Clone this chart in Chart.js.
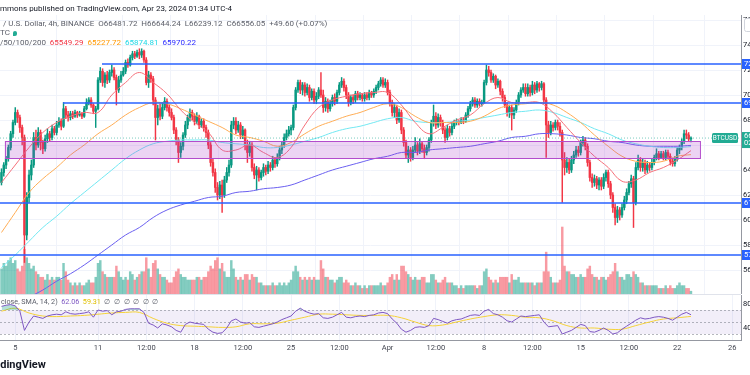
<!DOCTYPE html>
<html lang="en">
<head>
  <meta charset="UTF-8" />
  <title>BTCUSD 4h</title>
  <script src="https://cdn.jsdelivr.net/npm/chart.js"></script>
  <style>
    body {
      margin: 0;
      width: 750px;
      height: 375px;
      overflow: hidden;
      position: relative;
      background: #fff;
      font-family: Roboto, "Noto Sans", sans-serif;
    }
    #priceWrap { position: absolute; left: 0; top: 0; }
    #rsiWrap { position: absolute; left: 0; top: 294px; }
    .t {
      position: absolute;
      white-space: pre;
      font-size: 8px;
      line-height: 9px;
      color: #131722;
      z-index: 2;
    }
    .g { color: #5d606b; }
    .small { font-size: 7.2px; }
    .icon {
      display: inline-block;
      width: 4px;
      height: 5px;
      margin-left: 3px;
      background: #22ab94;
      border-radius: 2px 2px 2px 0;
      vertical-align: -1px;
    }
    #brand { font-weight: bold; font-size: 11px; line-height: 12px; }
  </style>
</head>
<body>
  <div id="priceWrap"><canvas id="priceChart" width="800" height="294"></canvas></div>
  <div id="rsiWrap"><canvas id="rsiChart" width="800" height="81"></canvas></div>

  <div class="t" style="left:0;top:4px">mmons published on TradingView.com, Apr 23, 2024 01:34 UTC-4</div>
  <div class="t g" style="left:3px;top:19px">/ U.S. Dollar, 4h, BINANCE  O66481.72  H66644.24  L66239.12  C66556.05  +49.60 (+0.07%)</div>
  <div class="t g" style="left:0;top:28px">TC<span class="icon"></span></div>
  <div class="t g" style="left:0;top:38px">/50/100/200  <span style="color:#f23645">65549.29</span>  <span style="color:#ff9800">65227.72</span>  <span style="color:#1fd8e6">65874.81</span>  <span style="color:#2b2bff">65970.22</span></div>

  <div class="t g small" style="left:1px;top:297px">close, SMA, 14, 2)  <span style="color:#7e57c2">62.06</span>  <span style="color:#e0c000">59.31</span>  ∅  ∅  ∅  ∅  ∅  ∅</div>

  <div class="t" id="brand" style="left:0;top:359px"><span id="brandCut">Tra</span>dingView</div>

  <script>
    // time axis in days since Feb 29 (so 4 = Mar 4, 32 = Apr 1), UTC-4
    const firstCandle = 4;
    const candleStep = 1 / 6; // 4h candles
    const xMin = 3.893;
    const xMax = 57.628;

    // prices in thousands USD
    const opens = [
      63.0, 63.8, 64.4, 64.9, 65.8, 66.9, 67.8, 68.6, 68.2, 67.4,
      66.6, 58.8, 61.8, 63.6, 64.4, 66.6, 66.0, 67.0, 66.2, 65.7,
      66.5, 66.9, 66.6, 67.3, 67.0, 67.6, 67.9, 67.5, 68.9, 68.4,
      68.2, 68.5, 68.3, 68.6, 68.4, 68.5, 68.3, 68.9, 69.4, 69.6,
      69.2, 68.7, 68.9, 71.2, 71.9, 71.0, 71.6, 71.2, 71.8, 72.0,
      71.4, 70.4, 71.2, 71.6, 71.9, 72.6, 72.4, 73.0, 73.3, 73.1,
      73.4, 73.2, 73.5, 72.8, 71.0, 71.6, 71.3, 69.6, 68.2, 68.9,
      68.3, 69.0, 69.5, 69.0, 68.6, 68.2, 67.2, 66.4, 65.4, 65.9,
      66.8, 67.6, 68.2, 68.6, 68.3, 67.9, 68.3, 67.6, 67.9, 67.4,
      67.0, 66.0, 64.6, 63.8, 62.6, 62.0, 62.8, 62.0, 63.2, 63.8,
      64.4, 67.6, 67.9, 67.2, 67.6, 66.8, 67.2, 66.0, 65.4, 66.0,
      64.2, 63.6, 64.0, 63.4, 63.8, 64.2, 63.9, 64.4, 64.2, 64.8,
      64.5, 65.0, 65.6, 66.0, 66.6, 66.9, 67.2, 67.4, 69.0, 70.4,
      71.0, 70.4, 70.8, 70.2, 70.6, 69.8, 70.3, 69.6, 69.9, 70.4,
      70.0, 69.0, 69.5, 68.9, 69.3, 69.8, 69.5, 70.2, 70.8, 71.1,
      70.6, 70.0, 69.4, 69.8, 69.6, 70.1, 69.8, 70.0, 69.7, 70.0,
      69.8, 70.2, 70.0, 70.3, 70.6, 70.9, 71.2, 70.8, 71.0, 70.2,
      69.4, 68.6, 69.0, 68.0, 68.6, 67.2, 66.2, 65.2, 65.6, 65.0,
      65.6, 66.0, 65.5, 66.1, 65.7, 65.4, 65.8, 66.4, 67.8, 68.3,
      67.6, 68.2, 67.8, 67.2, 66.6, 67.3, 67.0, 67.5, 67.8, 67.9,
      67.8, 68.0, 67.9, 68.4, 68.9, 69.3, 69.6, 69.2, 69.5, 69.3,
      69.4, 71.0, 72.0, 71.8, 71.2, 71.5, 70.8, 71.1, 70.3, 69.8,
      69.2, 68.6, 69.0, 68.4, 68.8, 69.4, 70.0, 70.4, 70.6, 70.1,
      70.6, 70.2, 70.8, 70.4, 70.9, 70.6, 70.9, 69.6, 67.6, 67.0,
      67.6, 67.4, 67.8, 67.5, 67.0, 64.8, 64.2, 64.6, 64.0, 64.8,
      65.2, 65.6, 65.4, 66.2, 66.4, 65.9, 64.6, 63.4, 63.0, 63.3,
      62.8, 63.2, 62.7, 63.4, 63.8, 62.9, 62.0, 61.0, 60.2, 60.8,
      60.4, 61.0, 61.6, 62.2, 62.9, 63.3, 61.4, 64.2, 64.8, 64.2,
      64.6, 64.0, 64.4, 64.2, 64.6, 65.0, 65.3, 65.0, 65.3, 65.0,
      65.4, 65.1, 64.7, 64.5, 64.9, 65.6, 65.8, 66.3, 66.9, 66.8,
      66.48172
    ];
    const highs = [
      64.1, 64.6, 65.1, 66.0, 67.1, 68.0, 69.0, 68.8, 68.4, 67.6,
      66.8, 62.2, 64.0, 64.8, 67.0, 67.2, 67.4, 67.2, 66.4, 66.8,
      67.3, 67.1, 67.6, 67.5, 67.9, 68.2, 68.1, 69.4, 69.1, 68.7,
      68.7, 68.7, 68.8, 68.7, 68.7, 68.6, 69.1, 69.7, 69.8, 69.8,
      69.3, 69.1, 71.4, 72.2, 72.1, 71.8, 71.9, 72.0, 72.4, 72.2,
      71.6, 71.5, 71.9, 72.2, 72.8, 72.9, 73.2, 73.5, 73.5, 73.6,
      73.7, 73.7, 73.6, 73.0, 71.9, 71.8, 71.5, 69.8, 69.2, 69.3,
      69.4, 69.8, 69.7, 69.2, 68.9, 68.4, 67.4, 66.6, 66.2, 67.0,
      67.9, 68.4, 68.9, 68.8, 68.5, 68.6, 68.4, 68.1, 68.1, 67.6,
      67.2, 66.2, 64.9, 64.1, 63.0, 63.1, 63.2, 63.5, 64.2, 64.8,
      67.9, 68.2, 68.2, 67.9, 67.8, 67.5, 67.3, 66.4, 66.3, 66.2,
      64.5, 64.3, 64.2, 64.0, 64.5, 64.4, 64.7, 64.6, 65.1, 65.0,
      65.3, 65.9, 66.3, 66.9, 67.2, 67.5, 67.6, 69.2, 70.6, 71.2,
      71.2, 71.0, 71.0, 70.9, 70.8, 70.5, 70.5, 70.2, 70.6, 71.8,
      70.4, 69.8, 69.7, 69.6, 70.0, 70.1, 70.4, 71.0, 71.4, 71.3,
      70.8, 70.2, 70.0, 70.0, 70.3, 70.3, 70.2, 70.1, 70.2, 70.2,
      70.4, 70.3, 70.5, 70.8, 71.1, 71.4, 71.4, 71.3, 71.2, 70.4,
      69.6, 69.3, 69.2, 68.9, 68.8, 67.4, 66.4, 65.9, 65.8, 65.9,
      66.6, 66.2, 66.5, 66.3, 66.0, 66.0, 66.6, 68.0, 69.2, 68.6,
      68.5, 68.4, 68.0, 67.4, 67.6, 67.5, 67.8, 68.0, 68.1, 68.0,
      68.2, 68.2, 68.6, 69.1, 69.5, 69.8, 69.8, 69.7, 69.7, 69.6,
      71.2, 72.4, 72.3, 72.0, 71.7, 71.6, 71.3, 71.2, 70.5, 70.0,
      69.4, 69.2, 69.2, 69.0, 69.6, 70.2, 70.6, 70.9, 70.9, 70.9,
      70.8, 71.1, 71.0, 71.1, 71.0, 71.1, 71.0, 69.8, 67.9, 67.9,
      67.8, 68.0, 68.0, 67.8, 67.2, 65.4, 65.0, 64.9, 65.1, 65.5,
      65.9, 65.9, 66.4, 66.7, 66.6, 66.1, 64.8, 63.7, 63.6, 63.5,
      63.4, 63.4, 63.7, 64.0, 64.0, 63.1, 62.2, 61.3, 61.1, 61.0,
      61.3, 61.9, 62.5, 63.1, 63.6, 63.5, 64.6, 65.2, 65.0, 64.9,
      64.8, 64.7, 64.6, 64.9, 65.2, 65.7, 65.5, 65.5, 65.5, 65.6,
      65.6, 65.3, 64.9, 65.1, 65.8, 66.0, 66.5, 67.2, 67.2, 67.0,
      66.64424
    ];
    const lows = [
      62.8, 63.5, 64.1, 64.7, 65.6, 66.6, 67.6, 67.8, 67.0, 66.0,
      56.6, 58.4, 61.4, 63.2, 64.2, 65.6, 65.8, 65.6, 65.3, 65.5,
      66.2, 66.3, 66.4, 66.8, 66.8, 67.4, 67.2, 67.4, 68.1, 67.9,
      68.0, 68.1, 68.2, 68.2, 68.3, 68.1, 68.2, 68.8, 69.2, 69.0,
      68.5, 67.4, 68.8, 71.0, 70.7, 70.6, 70.9, 71.0, 71.5, 71.2,
      69.2, 70.2, 71.0, 71.5, 71.7, 72.2, 72.3, 72.8, 72.9, 73.0,
      72.9, 73.0, 72.6, 70.8, 70.6, 71.0, 69.2, 66.4, 67.6, 68.0,
      68.1, 68.8, 68.7, 68.3, 68.0, 66.9, 66.0, 64.6, 65.0, 65.6,
      66.6, 67.3, 67.9, 68.0, 67.6, 67.7, 67.3, 67.4, 67.1, 66.6,
      65.7, 64.3, 63.5, 62.2, 61.6, 61.7, 60.6, 61.8, 63.0, 63.5,
      64.2, 67.3, 66.9, 67.0, 66.5, 66.5, 65.6, 64.6, 65.1, 63.9,
      63.3, 62.4, 63.1, 63.2, 63.5, 63.6, 63.7, 63.9, 64.0, 64.2,
      64.3, 64.8, 65.3, 65.8, 66.4, 66.7, 66.8, 67.2, 68.8, 70.2,
      70.1, 70.0, 69.9, 70.0, 69.5, 69.6, 69.3, 69.3, 69.7, 69.8,
      68.6, 68.7, 68.6, 68.7, 69.1, 69.2, 69.3, 70.0, 70.6, 70.3,
      69.7, 69.1, 69.2, 69.3, 69.4, 69.6, 69.6, 69.5, 69.5, 69.6,
      69.6, 69.8, 69.8, 70.1, 70.4, 70.7, 70.6, 70.6, 70.0, 69.1,
      68.3, 68.2, 67.7, 67.8, 66.9, 65.9, 64.9, 64.6, 64.7, 64.8,
      65.4, 65.2, 65.3, 65.4, 64.9, 65.2, 65.5, 66.2, 67.5, 67.3,
      67.4, 67.5, 66.9, 66.2, 66.4, 66.7, 66.8, 67.3, 67.6, 67.6,
      67.7, 67.7, 67.8, 68.2, 68.7, 69.1, 69.0, 69.0, 69.1, 69.1,
      69.3, 70.8, 71.5, 71.0, 71.0, 70.5, 70.6, 70.0, 69.5, 69.0,
      68.3, 68.2, 67.2, 68.1, 68.6, 69.2, 69.8, 70.2, 69.9, 69.9,
      69.9, 70.0, 70.1, 70.2, 70.3, 70.4, 69.3, 65.0, 66.6, 66.8,
      67.1, 67.2, 67.2, 66.7, 61.4, 63.6, 63.8, 63.7, 63.8, 64.5,
      65.0, 65.1, 65.2, 65.9, 65.6, 64.3, 63.1, 62.6, 62.7, 62.5,
      62.4, 62.4, 62.5, 63.1, 62.6, 61.7, 60.6, 59.6, 59.8, 60.0,
      60.2, 60.8, 61.3, 62.0, 62.6, 59.4, 61.2, 64.0, 63.9, 63.9,
      63.7, 63.8, 63.9, 64.0, 64.4, 64.8, 64.8, 64.9, 64.8, 64.8,
      64.9, 64.4, 64.3, 64.3, 64.7, 65.3, 65.6, 66.1, 66.5, 66.3,
      66.23912
    ];
    const closes = [
      63.8, 64.4, 64.9, 65.8, 66.9, 67.8, 68.6, 68.2, 67.4, 66.6,
      58.8, 61.8, 63.6, 64.4, 66.6, 66.0, 67.0, 66.2, 65.7, 66.5,
      66.9, 66.6, 67.3, 67.0, 67.6, 67.9, 67.5, 68.9, 68.4, 68.2,
      68.5, 68.3, 68.6, 68.4, 68.5, 68.3, 68.9, 69.4, 69.6, 69.2,
      68.7, 68.9, 71.2, 71.9, 71.0, 71.6, 71.2, 71.8, 72.0, 71.4,
      70.4, 71.2, 71.6, 71.9, 72.6, 72.4, 73.0, 73.3, 73.1, 73.4,
      73.2, 73.5, 72.8, 71.0, 71.6, 71.3, 69.6, 68.2, 68.9, 68.3,
      69.0, 69.5, 69.0, 68.6, 68.2, 67.2, 66.4, 65.4, 65.9, 66.8,
      67.6, 68.2, 68.6, 68.3, 67.9, 68.3, 67.6, 67.9, 67.4, 67.0,
      66.0, 64.6, 63.8, 62.6, 62.0, 62.8, 62.0, 63.2, 63.8, 64.4,
      67.6, 67.9, 67.2, 67.6, 66.8, 67.2, 66.0, 65.4, 66.0, 64.2,
      63.6, 64.0, 63.4, 63.8, 64.2, 63.9, 64.4, 64.2, 64.8, 64.5,
      65.0, 65.6, 66.0, 66.6, 66.9, 67.2, 67.4, 69.0, 70.4, 71.0,
      70.4, 70.8, 70.2, 70.6, 69.8, 70.3, 69.6, 69.9, 70.4, 70.0,
      69.0, 69.5, 68.9, 69.3, 69.8, 69.5, 70.2, 70.8, 71.1, 70.6,
      70.0, 69.4, 69.8, 69.6, 70.1, 69.8, 70.0, 69.7, 70.0, 69.8,
      70.2, 70.0, 70.3, 70.6, 70.9, 71.2, 70.8, 71.0, 70.2, 69.4,
      68.6, 69.0, 68.0, 68.6, 67.2, 66.2, 65.2, 65.6, 65.0, 65.6,
      66.0, 65.5, 66.1, 65.7, 65.4, 65.8, 66.4, 67.8, 68.3, 67.6,
      68.2, 67.8, 67.2, 66.6, 67.3, 67.0, 67.5, 67.8, 67.9, 67.8,
      68.0, 67.9, 68.4, 68.9, 69.3, 69.6, 69.2, 69.5, 69.3, 69.4,
      71.0, 72.0, 71.8, 71.2, 71.5, 70.8, 71.1, 70.3, 69.8, 69.2,
      68.6, 69.0, 68.4, 68.8, 69.4, 70.0, 70.4, 70.6, 70.1, 70.6,
      70.2, 70.8, 70.4, 70.9, 70.6, 70.9, 69.6, 67.6, 67.0, 67.6,
      67.4, 67.8, 67.5, 67.0, 64.8, 64.2, 64.6, 64.0, 64.8, 65.2,
      65.6, 65.4, 66.2, 66.4, 65.9, 64.6, 63.4, 63.0, 63.3, 62.8,
      63.2, 62.7, 63.4, 63.8, 62.9, 62.0, 61.0, 60.2, 60.8, 60.4,
      61.0, 61.6, 62.2, 62.9, 63.3, 61.4, 64.2, 64.8, 64.2, 64.6,
      64.0, 64.4, 64.2, 64.6, 65.0, 65.3, 65.0, 65.3, 65.0, 65.4,
      65.1, 64.7, 64.5, 64.9, 65.6, 65.8, 66.3, 66.9, 66.8, 66.48,
      66.55605
    ];
    // volume, relative units
    const volumes = [
      9, 11, 10, 12, 13, 11, 12, 9, 8, 10,
      16, 13, 11, 9, 10, 8, 7, 6, 6, 5,
      7, 5, 6, 5, 6, 6, 5, 11, 8, 5,
      4, 3, 4, 3, 4, 3, 3, 4, 5, 4,
      4, 6, 11, 12, 8, 7, 6, 6, 6, 6,
      10, 8, 6, 5, 6, 5, 8, 7, 5, 6,
      7, 8, 8, 13, 9, 6, 11, 12, 9, 7,
      6, 6, 5, 4, 4, 6, 8, 9, 7, 6,
      6, 5, 5, 5, 5, 6, 6, 5, 6, 6,
      8, 10, 9, 12, 13, 9, 11, 8, 6, 6,
      12, 9, 6, 5, 6, 5, 7, 7, 5, 7,
      6, 6, 4, 4, 3, 3, 3, 3, 4, 3,
      3, 4, 3, 4, 3, 4, 5, 8, 10, 8,
      6, 5, 6, 5, 6, 5, 6, 5, 5, 12,
      9, 6, 6, 5, 5, 4, 5, 6, 6, 4,
      5, 4, 3, 3, 4, 3, 3, 2, 3, 2,
      3, 3, 3, 3, 3, 4, 3, 3, 4, 6,
      7, 5, 7, 5, 10, 10, 8, 7, 6, 5,
      6, 5, 5, 6, 6, 4, 4, 7, 7, 5,
      4, 4, 5, 6, 4, 4, 4, 3, 3, 2,
      3, 2, 3, 3, 3, 3, 3, 2, 3, 3,
      8, 9, 6, 5, 4, 5, 4, 6, 6, 6,
      6, 4, 7, 5, 5, 6, 4, 4, 4, 4,
      4, 4, 3, 4, 4, 4, 8, 15, 8, 6,
      4, 4, 4, 5, 24, 10, 8, 8, 7, 7,
      6, 6, 7, 6, 6, 9, 10, 7, 6, 6,
      5, 6, 6, 5, 6, 7, 8, 11, 8, 6,
      6, 5, 7, 7, 6, 8, 7, 6, 4, 4,
      3, 3, 3, 3, 3, 3, 2, 2, 2, 3,
      2, 3, 2, 2, 3, 4, 3, 3, 2, 2,
      1
    ];

    // moving averages, one reading per day from Mar 4
    const ma20 = [63.0, 64.4, 65.8, 67.0, 67.8, 68.3, 68.6, 68.6, 70.0, 71.0, 71.8, 71.0, 70.1, 68.8, 67.8, 67.0, 65.6, 65.6, 66.0, 65.4, 65.0, 65.8, 67.6, 69.0, 69.6, 69.9, 70.1, 70.2, 70.2, 69.2, 67.8, 66.9, 67.4, 68.0, 68.4, 69.3, 69.8, 69.4, 69.4, 69.4, 68.6, 67.4, 66.2, 65.1, 64.2, 63.1, 63.2, 63.8, 64.2, 64.8, 65.55];
    const ma50 = [59.0, 60.6, 62.2, 63.3, 64.2, 65.2, 66.0, 66.9, 67.6, 68.4, 69.0, 69.4, 69.3, 68.9, 68.4, 67.9, 67.4, 66.8, 66.6, 66.3, 65.9, 66.2, 66.9, 67.5, 67.9, 68.3, 68.6, 69.0, 69.3, 69.0, 68.3, 67.8, 67.8, 67.8, 67.9, 68.3, 68.9, 69.2, 69.3, 69.4, 69.2, 68.6, 67.8, 66.8, 65.9, 65.1, 64.7, 64.6, 64.7, 65.1, 65.23];
    const ma100 = [56.2, 57.2, 58.3, 59.4, 60.3, 61.3, 62.2, 63.1, 64.0, 64.9, 65.6, 66.1, 66.3, 66.4, 66.4, 66.4, 66.2, 66.1, 66.0, 65.8, 65.8, 66.0, 66.3, 66.6, 67.0, 67.3, 67.5, 67.8, 68.1, 68.2, 67.9, 67.8, 67.8, 67.9, 68.0, 68.2, 68.4, 68.6, 68.7, 68.8, 68.6, 68.2, 67.8, 67.3, 66.9, 66.4, 66.1, 65.9, 65.8, 65.8, 65.87];
    const ma200 = [52.4, 53.0, 53.8, 54.4, 55.1, 55.7, 56.4, 57.2, 58.0, 58.8, 59.4, 60.2, 60.8, 61.2, 61.5, 61.8, 61.9, 62.2, 62.3, 62.5, 62.6, 62.8, 63.2, 63.6, 64.0, 64.3, 64.6, 64.9, 65.1, 65.4, 65.4, 65.6, 65.7, 65.8, 65.9, 66.1, 66.3, 66.6, 66.7, 66.9, 66.9, 66.8, 66.6, 66.5, 66.3, 66.2, 66.0, 65.9, 65.9, 65.9, 65.97];

    // RSI every 8h from Mar 4, its SMA once a day
    const rsi = [
      76, 78, 79, 77, 68, 36, 50, 60, 58, 56,
      60, 62, 63, 62, 67, 64, 63, 64, 65, 67,
      58, 70, 68, 69, 62, 67, 68, 71, 72, 72,
      72, 66, 48, 45, 40, 47, 45, 42, 36, 33,
      46, 50, 48, 47, 46, 38, 33, 31, 32, 40,
      52, 55, 50, 48, 49, 42, 41, 43, 45, 47,
      50, 54, 57, 60, 68, 73, 68, 65, 63, 64,
      57, 56, 58, 62, 66, 58, 57, 59, 60, 59,
      61, 62, 65, 66, 64, 55, 48, 38, 33, 36,
      41, 42, 41, 44, 56, 54, 51, 48, 52, 54,
      55, 58, 61, 62, 61, 68, 71, 64, 62, 58,
      52, 50, 55, 60, 59, 60, 61, 62, 50, 42,
      43, 44, 30, 33, 36, 41, 46, 44, 34, 33,
      36, 40, 36, 30, 32, 38, 43, 48, 53, 57,
      55, 56, 58, 59, 58, 56, 53, 58, 63, 66,
      62.06
    ];
    const rsiMa = [68, 73, 65, 60, 59, 60, 61, 63, 65, 66, 66, 56, 48, 44, 43, 42, 41, 42, 47, 47, 48, 53, 58, 63, 63, 62, 61, 61, 61, 57, 50, 44, 45, 50, 55, 59, 62, 61, 58, 57, 52, 44, 40, 40, 38, 38, 44, 50, 55, 57, 59.31];
    const rsiBands = [70, 50, 30];

    // drawings
    const levels = [72.48, 69.36, 61.36, 57.2];
    const levelStarts = [11.29, 8.46, xMin, xMin];
    const zone = [64.96, 66.32];
    const zoneSpan = [4.25, 54.65];
    const lastPrice = 66.55605;

    const tickDays = [5, 11, 14.5, 18, 21.5, 25, 28.5, 32, 35.5, 39, 42.5, 46, 49.5, 53, 57];
    const tickLabels = ['5', '11', '12:00', '18', '12:00', '25', '12:00', 'Apr', '12:00', '8', '12:00', '15', '12:00', '22', '26'];
    const priceTicks = [56, 58, 60, 62, 64, 66, 68, 70, 72, 74, 76];
    const rsiTicks = [40, 80];

    const upColor = '#089981';
    const downColor = '#f23645';
    const gridColor = '#f0f3fa';
    const axisColor = '#9598a1';
    const font = { family: 'Roboto', size: 7.5 };

    // hide the cut-off start of the watermark the same way the reference does
    const brand = document.getElementById('brand');
    brand.style.left = -document.getElementById('brandCut').offsetWidth + 'px';

    const candleTime = i => firstCandle + i * candleStep;
    const isUp = closes.map((c, i) => c >= opens[i]);
    const daily = arr => arr.map((v, j) => ({ x: firstCandle + j, y: v }));

    const setTicks = list => scale => { scale.ticks = list.map(v => ({ value: v })); };
    const fixWidth = scale => { scale.width = 59; scale.paddingTop = 0; scale.paddingBottom = 0; };

    function maLine(label, values, color) {
      return {
        type: 'line', label, data: daily(values),
        borderColor: color, borderWidth: 1, pointRadius: 0, tension: 0.4, order: 1
      };
    }

    const drawingsPlugin = {
      id: 'drawings',
      afterDatasetsDraw(chart) {
        const { ctx, chartArea: a, scales: { x, y } } = chart;
        ctx.save();
        ctx.beginPath();
        ctx.rect(a.left, a.top, a.right - a.left, a.bottom - a.top);
        ctx.clip();

        // support zone
        const zx0 = x.getPixelForValue(zoneSpan[0]);
        const zx1 = x.getPixelForValue(zoneSpan[1]);
        const zy0 = y.getPixelForValue(zone[1]);
        const zy1 = y.getPixelForValue(zone[0]);
        ctx.fillStyle = 'rgba(170, 60, 200, 0.22)';
        ctx.fillRect(zx0, zy0, zx1 - zx0, zy1 - zy0);
        ctx.strokeStyle = '#b34ccc';
        ctx.lineWidth = 1;
        ctx.strokeRect(zx0 + 0.5, zy0 + 0.5, zx1 - zx0, zy1 - zy0);

        // last price line
        const py = y.getPixelForValue(lastPrice);
        ctx.setLineDash([1, 2]);
        ctx.strokeStyle = 'rgba(34, 171, 148, 0.6)';
        ctx.beginPath();
        ctx.moveTo(a.left, py);
        ctx.lineTo(a.right, py);
        ctx.stroke();
        ctx.setLineDash([]);

        // horizontal levels
        ctx.strokeStyle = '#2962ff';
        ctx.lineWidth = 1.6;
        levels.forEach((lv, k) => {
          const ly = y.getPixelForValue(lv);
          ctx.beginPath();
          ctx.moveTo(x.getPixelForValue(levelStarts[k]), ly);
          ctx.lineTo(a.right, ly);
          ctx.stroke();
        });
        ctx.restore();

        // labels on the price axis
        ctx.save();
        ctx.font = '7.5px Roboto';
        ctx.textBaseline = 'middle';
        levels.forEach(lv => {
          const ly = y.getPixelForValue(lv);
          ctx.fillStyle = '#2962ff';
          ctx.fillRect(a.right + 1, ly - 5, 60, 10);
          ctx.fillStyle = '#fff';
          ctx.fillText((lv * 1000).toFixed(2), a.right + 3, ly);
        });
        ctx.fillStyle = '#22ab94';
        ctx.fillRect(a.right + 1, py - 6, 60, 16);
        ctx.fillStyle = '#fff';
        ctx.fillText((lastPrice * 1000).toFixed(2), a.right + 3, py - 1.5);
        ctx.fillText('02:25:48', a.right + 3, py + 5.5);

        // symbol tag
        ctx.fillStyle = '#22ab94';
        ctx.beginPath();
        ctx.roundRect(a.right - 29, py - 5, 26, 10, 1.5);
        ctx.fill();
        ctx.fillStyle = '#fff';
        ctx.font = '6.5px Roboto';
        ctx.textAlign = 'center';
        ctx.fillText('BTCUSD', a.right - 16, py + 0.3);

        // small button at the top of the axis
        ctx.strokeStyle = '#d1d4dc';
        ctx.lineWidth = 1;
        ctx.fillStyle = '#fff';
        ctx.beginPath();
        ctx.roundRect(a.right + 3.5, 18.5, 14, 13, 2);
        ctx.fill();
        ctx.stroke();
        ctx.restore();
      }
    };

    const rsiBandPlugin = {
      id: 'rsiBand',
      beforeDatasetsDraw(chart) {
        const { ctx, chartArea: a, scales: { y } } = chart;
        const yTop = y.getPixelForValue(rsiBands[0]);
        const yBot = y.getPixelForValue(rsiBands[2]);
        ctx.save();
        ctx.fillStyle = 'rgba(126, 87, 194, 0.1)';
        ctx.fillRect(a.left, yTop, a.right - a.left, yBot - yTop);
        ctx.setLineDash([2, 2]);
        ctx.strokeStyle = 'rgba(120, 123, 134, 0.55)';
        ctx.lineWidth = 1;
        rsiBands.forEach(b => {
          const by = Math.round(y.getPixelForValue(b)) + 0.5;
          ctx.beginPath();
          ctx.moveTo(a.left, by);
          ctx.lineTo(a.right, by);
          ctx.stroke();
        });
        ctx.restore();
      },
      afterDraw(chart) {
        const { ctx, chartArea: a } = chart;
        ctx.save();
        ctx.strokeStyle = '#e0e3eb';
        ctx.beginPath();
        ctx.moveTo(0, 0.5);
        ctx.lineTo(a.right, 0.5);
        ctx.stroke();
        ctx.restore();
      }
    };

    new Chart(document.getElementById('priceChart'), {
      type: 'bar',
      data: {
        datasets: [
          maLine('MA 20', ma20, '#f5707a'),
          maLine('MA 50', ma50, '#ffad55'),
          maLine('MA 100', ma100, '#72e8f2'),
          maLine('MA 200', ma200, '#6a5ff0'),
          {
            label: 'body',
            data: opens.map((o, i) => ({ x: candleTime(i), y: [o, closes[i]] })),
            backgroundColor: isUp.map(u => u ? upColor : downColor),
            barThickness: 1.8, minBarLength: 1, grouped: false, order: 3
          },
          {
            label: 'wick',
            data: lows.map((l, i) => ({ x: candleTime(i), y: [l, highs[i]] })),
            backgroundColor: isUp.map(u => u ? upColor : downColor),
            barThickness: 0.8, grouped: false, order: 4
          },
          {
            label: 'volume',
            yAxisID: 'yv',
            data: volumes.map((v, i) => ({ x: candleTime(i), y: v })),
            backgroundColor: isUp.map(u => u ? 'rgba(8, 153, 129, 0.5)' : 'rgba(242, 54, 69, 0.5)'),
            barThickness: 1.8, grouped: false, order: 5
          }
        ]
      },
      options: {
        responsive: false,
        devicePixelRatio: 1,
        animation: false,
        layout: { autoPadding: false, padding: { top: 15, left: 0, right: 0, bottom: 0 } },
        plugins: { legend: { display: false }, tooltip: { enabled: false } },
        scales: {
          x: {
            type: 'linear', min: xMin, max: xMax, offset: false,
            afterBuildTicks: setTicks(tickDays),
            ticks: { display: false },
            grid: { color: gridColor, drawTicks: false },
            border: { display: false },
            afterFit: s => { s.height = 0; s.paddingLeft = 0; s.paddingRight = 0; }
          },
          y: {
            position: 'right', min: 54.08, max: 76.4,
            afterBuildTicks: setTicks(priceTicks),
            ticks: { font, color: '#131722', padding: 2, callback: v => (v * 1000).toFixed(2) },
            grid: { color: gridColor, drawTicks: false },
            border: { display: true, color: axisColor },
            afterFit: fixWidth
          },
          yv: { display: false, min: 0, max: 100 }
        }
      },
      plugins: [drawingsPlugin]
    });

    new Chart(document.getElementById('rsiChart'), {
      type: 'line',
      data: {
        datasets: [
          {
            label: 'RSI',
            data: rsi.map((v, k) => ({ x: firstCandle + k * 2 * candleStep, y: v })),
            borderColor: '#7e57c2', borderWidth: 1, pointRadius: 0, tension: 0,
            fill: { target: { value: 70 }, above: 'rgba(8, 153, 129, 0.3)', below: 'transparent' }
          },
          {
            label: 'RSI low',
            data: rsi.map((v, k) => ({ x: firstCandle + k * 2 * candleStep, y: v })),
            borderWidth: 0, pointRadius: 0, tension: 0,
            fill: { target: { value: 30 }, above: 'transparent', below: 'rgba(242, 54, 69, 0.3)' }
          },
          {
            label: 'RSI MA',
            data: daily(rsiMa),
            borderColor: '#f5d238', borderWidth: 1, pointRadius: 0, tension: 0.4
          }
        ]
      },
      options: {
        responsive: false,
        devicePixelRatio: 1,
        animation: false,
        layout: { autoPadding: false, padding: { top: 1, left: 0, right: 0, bottom: 0 } },
        plugins: { legend: { display: false }, tooltip: { enabled: false } },
        scales: {
          x: {
            type: 'linear', min: xMin, max: xMax, offset: false,
            afterBuildTicks: setTicks(tickDays),
            ticks: {
              font, color: '#434651', padding: 4, maxRotation: 0, autoSkip: false,
              callback: v => tickLabels[tickDays.indexOf(v)]
            },
            grid: { color: gridColor, drawTicks: false },
            border: { display: true, color: axisColor },
            afterFit: s => { s.height = 35; s.paddingLeft = 0; s.paddingRight = 0; }
          },
          y: {
            position: 'right', min: 20, max: 95,
            afterBuildTicks: setTicks(rsiTicks),
            ticks: { font, color: '#131722', padding: 2, callback: v => v.toFixed(2) },
            grid: { display: false, drawTicks: false },
            border: { display: true, color: axisColor },
            afterFit: fixWidth
          }
        }
      },
      plugins: [rsiBandPlugin]
    });
  </script>
</body>
</html>
